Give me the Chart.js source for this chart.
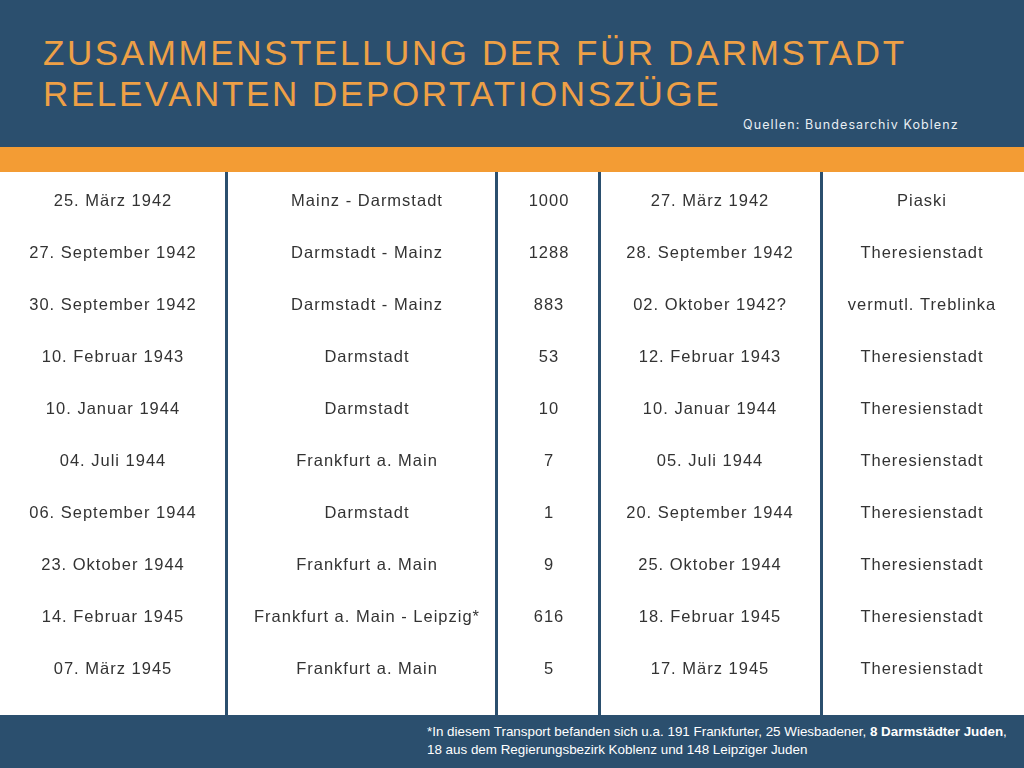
<!DOCTYPE html>
<html lang="de">
<head>
<meta charset="utf-8">
<script src="https://cdn.jsdelivr.net/npm/chart.js@4.4.1/dist/chart.umd.min.js"></script>
<style>
  html, body { margin: 0; padding: 0; }
  body { width: 1024px; height: 768px; position: relative; overflow: hidden; background: #fff; font-family: "Liberation Sans", Arial, sans-serif; }
  #header { position: absolute; left: 0; top: 0; width: 1024px; height: 147px; background: #2b4f6e; }
  #title { position: absolute; left: 43px; top: 32px; margin: 0; font-family: "Liberation Sans", Arial, sans-serif; font-weight: normal; font-size: 35px; line-height: 41px; letter-spacing: 2.6px; color: #eea046; white-space: nowrap; }
  #source { position: absolute; left: 743px; top: 117px; font-family: Inter, "Open Sans", sans-serif; font-size: 12.5px; letter-spacing: 1.1px; color: #e8eef3; white-space: nowrap; }
  #band { position: absolute; left: 0; top: 147px; width: 1024px; height: 25px; background: #f39c34; }
  #wrap { position: absolute; left: 0; top: 172px; width: 1024px; height: 543px; }
  #footer { position: absolute; left: 0; top: 715px; width: 1024px; height: 53px; background: #2b4f6e; }
  #note { position: absolute; left: 427px; top: 8px; font-family: "Liberation Sans", Arial, sans-serif; font-size: 13.4px; line-height: 18px; color: #ffffff; white-space: nowrap; }
</style>
</head>
<body>
<div id="header">
  <h1 id="title">ZUSAMMENSTELLUNG DER FÜR DARMSTADT<br>RELEVANTEN DEPORTATIONSZÜGE</h1>
  <div id="source">Quellen: Bundesarchiv Koblenz</div>
</div>
<div id="band"></div>
<div id="wrap"><canvas id="c"></canvas></div>
<div id="footer">
  <div id="note">*In diesem Transport befanden sich u.a. 191 Frankfurter, 25 Wiesbadener, <b>8 Darmstädter Juden</b>,<br>18 aus dem Regierungsbezirk Koblenz und 148 Leipziger Juden</div>
</div>
<script>
// ---- data ----
const abfahrt = ["25. März 1942", "27. September 1942", "30. September 1942", "10. Februar 1943", "10. Januar 1944", "04. Juli 1944", "06. September 1944", "23. Oktober 1944", "14. Februar 1945", "07. März 1945"];
const strecke = ["Mainz - Darmstadt", "Darmstadt - Mainz", "Darmstadt - Mainz", "Darmstadt", "Darmstadt", "Frankfurt a. Main", "Darmstadt", "Frankfurt a. Main", "Frankfurt a. Main - Leipzig*", "Frankfurt a. Main"];
const personen = [1000, 1288, 883, 53, 10, 7, 1, 9, 616, 5];
const ankunft = ["27. März 1942", "28. September 1942", "02. Oktober 1942?", "12. Februar 1943", "10. Januar 1944", "05. Juli 1944", "20. September 1944", "25. Oktober 1944", "18. Februar 1945", "17. März 1945"];
const ziel = ["Piaski", "Theresienstadt", "vermutl. Treblinka", "Theresienstadt", "Theresienstadt", "Theresienstadt", "Theresienstadt", "Theresienstadt", "Theresienstadt", "Theresienstadt"];

const columns = [abfahrt, strecke, personen, ankunft, ziel];

// ---- layout (not data) ----
const colEdges = [0, 226, 496, 599, 821, 1024];
const colCenters = [113, 367, 549, 710, 922];

const datasets = columns.map((col, ci) => ({
  label: 'col' + ci,
  data: col.map((v, ri) => ({ x: colCenters[ci], y: ri, text: String(v) })),
  pointRadius: 0,
  pointHoverRadius: 0,
  showLine: false
}));

const cellText = {
  id: 'cellText',
  afterDatasetsDraw(chart) {
    const ctx = chart.ctx;
    ctx.save();
    ctx.font = '16.5px "Liberation Sans", Arial, sans-serif';
    if ('letterSpacing' in ctx) ctx.letterSpacing = '1px';
    ctx.fillStyle = '#333333';
    ctx.textAlign = 'center';
    ctx.textBaseline = 'middle';
    chart.data.datasets.forEach((ds, di) => {
      const meta = chart.getDatasetMeta(di);
      meta.data.forEach((pt, i) => {
        ctx.fillText(ds.data[i].text, pt.x, pt.y);
      });
    });
    ctx.restore();
  }
};

new Chart(document.getElementById('c'), {
  type: 'scatter',
  data: { datasets },
  options: {
    responsive: true,
    maintainAspectRatio: false,
    animation: false,
    events: [],
    layout: { padding: 0 },
    plugins: { legend: { display: false }, tooltip: { enabled: false }, title: { display: false } },
    scales: {
      x: {
        type: 'linear',
        min: colEdges[0],
        max: colEdges[colEdges.length - 1],
        afterBuildTicks: (s) => { s.ticks = colEdges.slice(1, -1).map(v => ({ value: v })); },
        ticks: { display: false },
        border: { display: false },
        grid: { color: '#2b4f6e', lineWidth: 3, drawTicks: false }
      },
      y: {
        type: 'linear',
        reverse: true,
        min: -0.575,
        max: 9.87,
        display: false
      }
    }
  },
  plugins: [cellText]
});
</script>
</body>
</html>
